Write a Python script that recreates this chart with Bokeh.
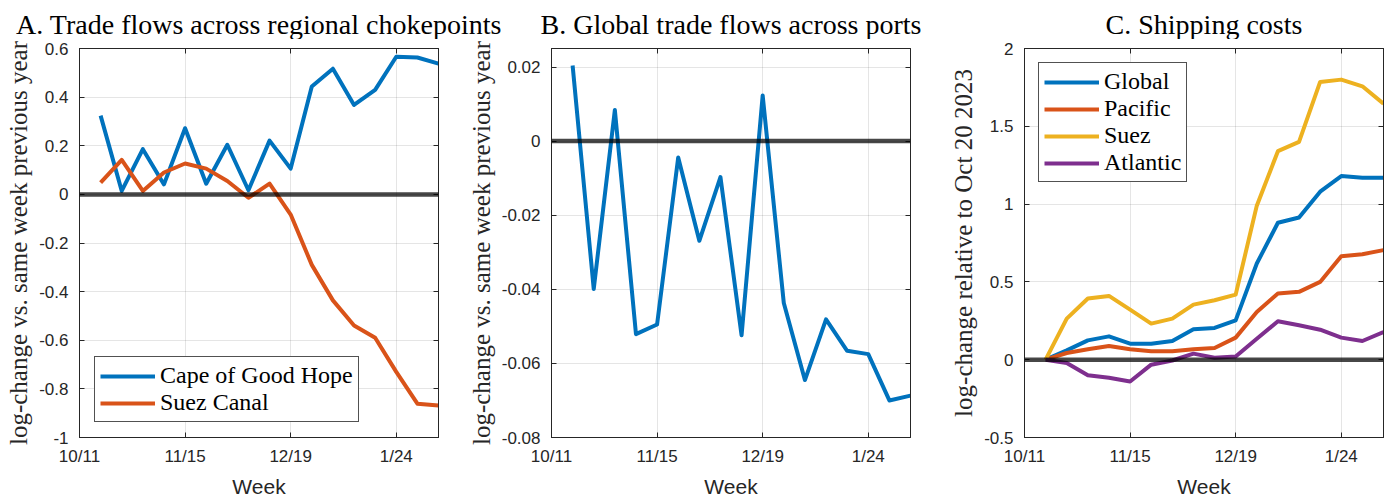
from bokeh.plotting import figure
from bokeh.models import (Range1d, FixedTicker, LinearAxis, Span, Legend, LegendItem,
                          Label, ColumnDataSource)
from bokeh.layouts import row, column
from bokeh.embed import file_html
from bokeh.resources import INLINE

# ---------------- data ----------------
weeks = list(range(1, 18))
week_ticks = [0, 5, 10, 15]
week_tick_labels = ["10/11", "11/15", "12/19", "1/24"]

cape_good_hope = [0.324, 0.014, 0.186, 0.041, 0.272, 0.044, 0.204, 0.017, 0.221, 0.106,
                  0.444, 0.517, 0.368, 0.430, 0.566, 0.563, 0.538]
suez_canal = [0.048, 0.142, 0.014, 0.090, 0.127, 0.106, 0.055, -0.014, 0.044, -0.083,
              -0.290, -0.436, -0.539, -0.590, -0.730, -0.861, -0.868]

global_ports = [0.0204, -0.0399, 0.0084, -0.0521, -0.0495, -0.0044, -0.0269, -0.0097, -0.0524,
                0.0123, -0.0437, -0.0645, -0.0481, -0.0566, -0.0575, -0.0700, -0.0687]

cost_global = [0.0, 0.060, 0.124, 0.150, 0.103, 0.103, 0.120, 0.195, 0.204, 0.253,
               0.618, 0.880, 0.914, 1.080, 1.180, 1.170, 1.170]
cost_pacific = [0.0, 0.043, 0.067, 0.088, 0.067, 0.054, 0.054, 0.067, 0.075, 0.142,
                0.307, 0.425, 0.436, 0.500, 0.665, 0.678, 0.704]
cost_suez = [0.0, 0.264, 0.393, 0.410, 0.322, 0.232, 0.264, 0.354, 0.382, 0.418,
             0.990, 1.340, 1.400, 1.785, 1.800, 1.757, 1.645]
cost_atlantic = [0.0, -0.021, -0.100, -0.116, -0.140, -0.032, -0.005, 0.039, 0.013, 0.021,
                 0.135, 0.247, 0.221, 0.193, 0.142, 0.120, 0.178]

a_yticks = [-1, -0.8, -0.6, -0.4, -0.2, 0, 0.2, 0.4, 0.6]
a_ylabels = ["-1", "-0.8", "-0.6", "-0.4", "-0.2", "0", "0.2", "0.4", "0.6"]
b_yticks = [-0.08, -0.06, -0.04, -0.02, 0, 0.02]
b_ylabels = ["-0.08", "-0.06", "-0.04", "-0.02", "0", "0.02"]
c_yticks = [-0.5, 0, 0.5, 1, 1.5, 2]
c_ylabels = ["-0.5", "0", "0.5", "1", "1.5", "2"]

titles = ["A. Trade flows across regional chokepoints",
          "B. Global trade flows across ports",
          "C. Shipping costs"]

BLUE, ORANGE, YELLOW, PURPLE = "#0072BD", "#D95319", "#EDB120", "#7E2F8E"
AX = "#262626"
SERIF = "Liberation Serif"
SANS = "Liberation Sans"

FRAME_W, FRAME_H = 359, 389
borders = [(79, 8), (105, 8), (106, 4)]
TOP, BOTTOM = 9, 57
TITLE_H = 39


def make_fig(yr, yticks, ylabels, ylabel, lb, rb):
    p = figure(x_range=Range1d(0, 17), y_range=Range1d(*yr),
               frame_width=FRAME_W, frame_height=FRAME_H,
               min_border_left=lb, min_border_right=rb,
               min_border_top=TOP, min_border_bottom=BOTTOM,
               toolbar_location=None, output_backend="svg",
               x_axis_label="Week", y_axis_label=ylabel)
    p.outline_line_color = AX
    p.outline_line_width = 1
    p.background_fill_color = "white"
    p.border_fill_color = "white"

    xa = p.xaxis[0]
    xa.ticker = FixedTicker(ticks=week_ticks)
    xa.major_label_overrides = dict(zip(week_ticks, week_tick_labels))
    ya = p.yaxis[0]
    ya.ticker = FixedTicker(ticks=yticks)
    ya.major_label_overrides = dict(zip(yticks, ylabels))
    for ax in (xa, ya):
        ax.major_tick_in = 5
        ax.major_tick_out = 0
        ax.minor_tick_line_color = None
        ax.axis_line_color = AX
        ax.major_tick_line_color = AX
        ax.major_label_text_font = SANS
        ax.major_label_text_font_size = "17px"
        ax.major_label_text_color = AX
    xa.major_label_standoff = 9
    ya.major_label_standoff = 11
    xa.axis_label_text_font = SANS
    xa.axis_label_text_font_size = "21px"
    xa.axis_label_text_font_style = "normal"
    xa.axis_label_text_color = AX
    xa.axis_label_standoff = 6
    ya.axis_label_text_font = SERIF
    ya.axis_label_text_font_size = "25px"
    ya.axis_label_text_font_style = "normal"
    ya.axis_label_text_color = AX
    ya.axis_label_standoff = 4

    # mirrored ticks on top/right (box on)
    for loc, tk in (("right", yticks), ("above", week_ticks)):
        ax2 = LinearAxis(ticker=FixedTicker(ticks=tk), major_tick_in=5, major_tick_out=0,
                         minor_tick_line_color=None, axis_line_color=AX,
                         major_tick_line_color=AX, major_label_text_font_size="0px",
                         major_label_text_color=None, major_label_standoff=0)
        p.add_layout(ax2, loc)

    p.xgrid.grid_line_color = AX
    p.ygrid.grid_line_color = AX
    p.xgrid.grid_line_alpha = 0.12
    p.ygrid.grid_line_alpha = 0.12
    p.add_layout(Span(location=0, dimension="width", line_color="black",
                      line_alpha=0.72, line_width=4.5))
    return p


def add_legend(p, items, location, margin):
    leg = Legend(items=items, location=location, margin=margin,
                 label_text_font=SERIF, label_text_font_size="24px", label_text_color="black",
                 glyph_width=55, glyph_height=20, label_standoff=5, label_height=20,
                 padding=5, spacing=0, border_line_color=AX, border_line_width=1,
                 border_line_alpha=0.8,
                 background_fill_color="white", background_fill_alpha=1.0)
    p.add_layout(leg)


# ---- panel A ----
srcA = ColumnDataSource(dict(week=weeks, cape=cape_good_hope, suez=suez_canal))
pA = make_fig((-1, 0.6), a_yticks, a_ylabels, "log-change vs. same week previous year", *borders[0])
rA1 = pA.line("week", "cape", source=srcA, line_color=BLUE, line_width=4, line_join="round")
rA2 = pA.line("week", "suez", source=srcA, line_color=ORANGE, line_width=4, line_join="round")
add_legend(pA, [LegendItem(label="Cape of Good Hope", renderers=[rA1]),
                LegendItem(label="Suez Canal", renderers=[rA2])], "bottom_left", 15)

# ---- panel B ----
srcB = ColumnDataSource(dict(week=weeks, ports=global_ports))
pB = make_fig((-0.08, 0.025), b_yticks, b_ylabels, "log-change vs. same week previous year", *borders[1])
pB.line("week", "ports", source=srcB, line_color=BLUE, line_width=4, line_join="round")

# ---- panel C ----
srcC = ColumnDataSource(dict(week=weeks, g=cost_global, p=cost_pacific, s=cost_suez, a=cost_atlantic))
pC = make_fig((-0.5, 2), c_yticks, c_ylabels, "log-change relative to Oct 20 2023", *borders[2])
rC1 = pC.line("week", "g", source=srcC, line_color=BLUE, line_width=4, line_join="round")
rC2 = pC.line("week", "p", source=srcC, line_color=ORANGE, line_width=4, line_join="round")
rC3 = pC.line("week", "s", source=srcC, line_color=YELLOW, line_width=4, line_join="round")
rC4 = pC.line("week", "a", source=srcC, line_color=PURPLE, line_width=4, line_join="round")
add_legend(pC, [LegendItem(label="Global", renderers=[rC1]),
                LegendItem(label="Pacific", renderers=[rC2]),
                LegendItem(label="Suez", renderers=[rC3]),
                LegendItem(label="Atlantic", renderers=[rC4])], "top_left", 14)

# ---- title strip ----
total_w = sum(lb + FRAME_W + rb for lb, rb in borders)
tf = figure(width=total_w, height=TITLE_H, x_range=Range1d(0, total_w), y_range=Range1d(0, TITLE_H),
            min_border_left=0, min_border_right=0, min_border_top=0, min_border_bottom=0,
            x_axis_location=None, y_axis_location=None, toolbar_location=None,
            output_backend="svg", outline_line_color=None)
tf.xgrid.visible = False
tf.ygrid.visible = False
x0 = 0
for (lb, rb), t in zip(borders, titles):
    cx = x0 + lb + FRAME_W / 2
    tf.add_layout(Label(x=cx, y=15, text=t, text_align="center", text_baseline="alphabetic",
                        text_font=SERIF, text_font_size="28px", text_color="black"))
    x0 += lb + FRAME_W + rb

layout = column(tf, row(pA, pB, pC, spacing=0), spacing=0)
open("out.html", "w").write(file_html(layout, INLINE))
